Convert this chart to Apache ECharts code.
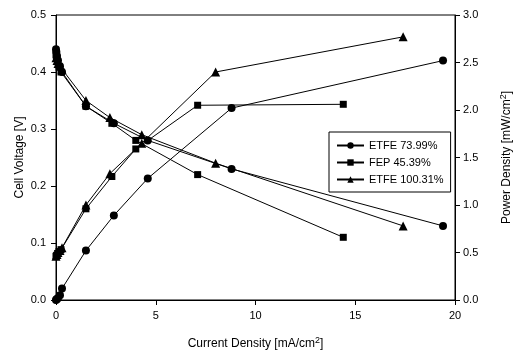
<!DOCTYPE html>
<html>
<head>
<meta charset="utf-8">
<script src="https://cdn.jsdelivr.net/npm/echarts@6/dist/echarts.min.js"></script>
<style>
  html, body { margin: 0; padding: 0; background: #fff; }
  #chart { width: 515px; height: 354px; }
</style>
</head>
<body>
<div id="chart"></div>
<script>
// ETFE 73.99% (circles)
const cdEtfe74 = [0, 0.02, 0.05, 0.1, 0.2, 0.3, 1.5, 2.9, 4.6, 8.8, 19.4];
const vEtfe74 = [0.44, 0.435, 0.428, 0.42, 0.41, 0.40, 0.34, 0.31, 0.28, 0.23, 0.13];
const pEtfe74 = [0, 0.005, 0.01, 0.02, 0.05, 0.12, 0.52, 0.89, 1.28, 2.02, 2.52];

// FEP 45.39% (squares)
const cdFep = [0, 0.03, 0.08, 0.15, 0.25, 1.5, 2.8, 4.0, 7.1, 14.4];
const vFep = [0.43, 0.425, 0.418, 0.41, 0.40, 0.34, 0.31, 0.28, 0.22, 0.11];
const pFep = [0.46, 0.47, 0.49, 0.51, 0.53, 0.96, 1.3, 1.59, 2.05, 2.06];

// ETFE 100.31% (triangles)
const cdEtfe100 = [0, 0.05, 0.1, 0.2, 0.3, 1.5, 2.7, 4.3, 8.0, 17.4];
const vEtfe100 = [0.425, 0.42, 0.415, 0.41, 0.405, 0.35, 0.32, 0.29, 0.24, 0.13];
const pEtfe100 = [0.46, 0.48, 0.5, 0.52, 0.55, 1.0, 1.33, 1.65, 2.40, 2.77];

const names = ['ETFE 73.99%', 'FEP 45.39%', 'ETFE 100.31%'];

const chart = echarts.init(document.getElementById('chart'));

const zip = (xs, ys) => xs.map((x, i) => [x, ys[i]]);
const font = 'Liberation Sans, Arial, sans-serif';

function makeSeries(name, symbol, size, xs, ys, yIndex) {
  return {
    name,
    type: 'line',
    yAxisIndex: yIndex,
    symbol,
    symbolSize: size,
    showAllSymbol: true,
    animation: false,
    lineStyle: { color: '#000', width: 1 },
    itemStyle: { color: '#000' },
    data: zip(xs, ys),
  };
}

const axisCommon = {
  axisLine: { show: true, lineStyle: { color: '#000', width: 1 } },
  axisTick: { show: true, inside: false, length: 5, lineStyle: { color: '#000' } },
  splitLine: { show: false },
  axisLabel: { color: '#000', fontFamily: font, fontSize: 11 },
  nameTextStyle: { color: '#000', fontFamily: font, fontSize: 12 },
  nameMoveOverlap: false,
};

// name with superscript 2
const supRich = {
  a: { color: '#000', fontFamily: font, fontSize: 12 },
  s: { color: '#000', fontFamily: font, fontSize: 9, verticalAlign: 'top', padding: [0, 0, 7, 0] },
};

const options = {
  backgroundColor: '#fff',
  animation: false,
  grid: {
    left: 56, right: 60, top: 15, bottom: 54,
    outerBoundsMode: 'none',
    show: true, borderColor: '#000', borderWidth: 1,
  },
  legend: {
    data: names,
    orient: 'vertical',
    left: 329, top: 132,
    itemWidth: 27, itemHeight: 8, itemGap: 6,
    padding: [8, 7, 7, 7],
    borderColor: '#000', borderWidth: 1,
    backgroundColor: '#fff',
    textStyle: { color: '#000', fontFamily: font, fontSize: 11 },
  },
  xAxis: {
    ...axisCommon,
    type: 'value',
    min: 0, max: 20, interval: 5,
    name: '{a|Current Density [mA/cm}{s|2}{a|]}',
    nameLocation: 'middle',
    nameGap: 36,
    nameTextStyle: { rich: supRich },
    axisLabel: { ...axisCommon.axisLabel, margin: 10 },
  },
  yAxis: [
    {
      ...axisCommon,
      type: 'value',
      position: 'left',
      min: 0, max: 0.5, interval: 0.1,
      name: 'Cell Voltage [V]',
      nameLocation: 'middle',
      nameGap: 30,
      axisLabel: { ...axisCommon.axisLabel, margin: 10, formatter: (v) => v.toFixed(1) },
    },
    {
      ...axisCommon,
      type: 'value',
      position: 'right',
      min: 0, max: 3, interval: 0.5,
      name: '{a|Power Density [mW/cm}{s|2}{a|]}',
      nameLocation: 'middle',
      nameGap: 44,
      nameRotate: 90,
      nameTextStyle: { rich: supRich },
      axisLabel: { ...axisCommon.axisLabel, formatter: (v) => v.toFixed(1) },
    },
  ],
  series: [
    makeSeries(names[0], 'circle', 8, cdEtfe74, vEtfe74, 0),
    makeSeries(names[1], 'rect', 7, cdFep, vFep, 0),
    makeSeries(names[2], 'triangle', 9, cdEtfe100, vEtfe100, 0),
    makeSeries(names[0], 'circle', 8, cdEtfe74, pEtfe74, 1),
    makeSeries(names[1], 'rect', 7, cdFep, pFep, 1),
    makeSeries(names[2], 'triangle', 9, cdEtfe100, pEtfe100, 1),
  ],
};

chart.setOption(options);
</script>
</body>
</html>
